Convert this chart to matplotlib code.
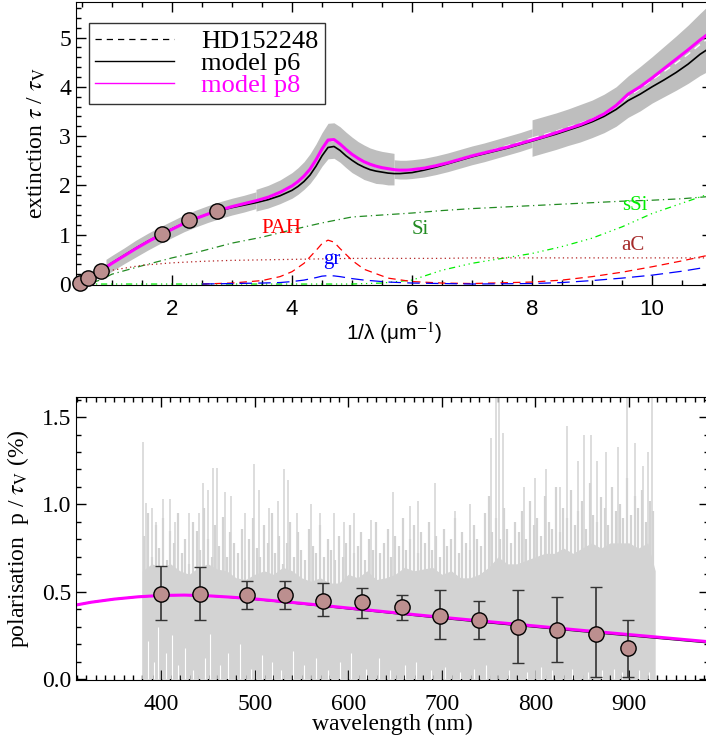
import numpy as np
import matplotlib
matplotlib.use('Agg')
import matplotlib.pyplot as plt
from matplotlib.ticker import MultipleLocator

plt.rcParams['font.family'] = ['Liberation Serif', 'DejaVu Serif']
plt.rcParams['mathtext.fontset'] = 'stix'
plt.rcParams['xtick.direction'] = 'in'
plt.rcParams['ytick.direction'] = 'in'

# ---------------- extinction (top) ----------------
xm = [0.4, 0.5, 0.6, 0.7, 0.8, 0.9, 1.0, 1.2, 1.4, 1.6, 1.8, 2.0, 2.2, 2.4, 2.6, 2.8,
      3.0, 3.2, 3.4, 3.6, 3.8, 4.0, 4.1, 4.2, 4.3, 4.4, 4.5, 4.6, 4.7, 4.8, 4.9,
      5.0, 5.1, 5.2, 5.3, 5.4, 5.5, 5.6, 5.7, 5.8, 5.9, 6.0, 6.2, 6.4, 6.6, 6.8,
      7.0, 7.2, 7.4, 7.6, 7.8, 8.0, 8.2, 8.4, 8.6, 8.8, 9.0, 9.2, 9.4, 9.6, 9.8,
      10.0, 10.2, 10.4, 10.6, 10.8, 11.0]
p8 = [0.0, 0.06, 0.12, 0.19, 0.26, 0.34, 0.42, 0.57, 0.72, 0.86, 0.99, 1.11, 1.23, 1.33, 1.42, 1.50,
      1.57, 1.63, 1.69, 1.76, 1.86, 1.99, 2.08, 2.19, 2.33, 2.52, 2.74, 2.92, 2.93, 2.84, 2.73,
      2.63, 2.55, 2.48, 2.43, 2.39, 2.36, 2.34, 2.32, 2.31, 2.31, 2.32, 2.35, 2.40, 2.46, 2.53,
      2.60, 2.66, 2.72, 2.78, 2.85, 2.92, 2.99, 3.07, 3.15, 3.23, 3.33, 3.45, 3.62, 3.85, 4.00,
      4.18, 4.37, 4.56, 4.75, 4.95, 5.13]
p6 = [0.0, 0.07, 0.13, 0.20, 0.27, 0.35, 0.43, 0.58, 0.73, 0.87, 1.00, 1.12, 1.23, 1.33, 1.42, 1.49,
      1.55, 1.60, 1.65, 1.71, 1.79, 1.90, 1.98, 2.08, 2.21, 2.39, 2.60, 2.77, 2.79, 2.71, 2.60,
      2.51, 2.43, 2.37, 2.32, 2.29, 2.27, 2.25, 2.24, 2.24, 2.25, 2.26, 2.31, 2.37, 2.44, 2.51,
      2.58, 2.64, 2.70, 2.76, 2.83, 2.90, 2.97, 3.04, 3.12, 3.20, 3.29, 3.40, 3.54, 3.72, 3.85,
      4.00, 4.14, 4.29, 4.46, 4.66, 4.82]

# HD152248 observed curve with error band (separate segments)
obs_x = [[0.9, 1.0, 1.2, 1.4, 1.6, 1.8, 2.0, 2.2, 2.4, 2.6, 2.8, 3.0, 3.2, 3.4],
         [3.4, 3.6, 3.8, 4.0, 4.1, 4.2, 4.3, 4.4, 4.5, 4.6, 4.7, 4.8, 4.9, 5.0, 5.1, 5.2,
          5.3, 5.4, 5.5, 5.6, 5.7],
         [5.7, 5.8, 5.9, 6.0, 6.2, 6.4, 6.6, 6.8, 7.0, 7.2, 7.4, 7.6, 7.8, 8.0],
         [8.0, 8.2, 8.4, 8.6, 8.8, 9.0, 9.2, 9.4, 9.6, 9.8, 10.0, 10.2, 10.4, 10.6, 10.8, 11.0]]
obs_y = [[0.34, 0.42, 0.57, 0.72, 0.86, 0.99, 1.11, 1.23, 1.33, 1.42, 1.50, 1.57, 1.63, 1.70],
         [1.70, 1.77, 1.87, 2.00, 2.09, 2.20, 2.34, 2.52, 2.73, 2.90, 2.91, 2.83, 2.72,
          2.62, 2.54, 2.47, 2.42, 2.38, 2.36, 2.34, 2.33],
         [2.33, 2.32, 2.32, 2.33, 2.36, 2.41, 2.47, 2.54, 2.61, 2.67, 2.74, 2.81, 2.88, 2.96],
         [2.96, 3.03, 3.10, 3.18, 3.26, 3.35, 3.46, 3.60, 3.80, 3.96, 4.14, 4.31, 4.48, 4.66,
          4.86, 5.04]]
obs_e = [[0.16, 0.16, 0.16, 0.17, 0.17, 0.17, 0.17, 0.17, 0.17, 0.17, 0.17, 0.17, 0.17, 0.17],
         [0.22, 0.23, 0.24, 0.26, 0.27, 0.28, 0.30, 0.32, 0.34, 0.36, 0.36, 0.36, 0.36, 0.36,
          0.35, 0.35, 0.34, 0.34, 0.33, 0.33, 0.32],
         [0.19, 0.19, 0.19, 0.19, 0.19, 0.19, 0.19, 0.19, 0.19, 0.19, 0.19, 0.19, 0.19, 0.19],
         [0.37, 0.37, 0.37, 0.37, 0.38, 0.38, 0.39, 0.40, 0.42, 0.45, 0.47, 0.51, 0.55, 0.59,
          0.63, 0.68]]

# photometric points
phot_x = [0.47, 0.60, 0.82, 1.83, 2.28, 2.75]
phot_y = [0.02, 0.12, 0.27, 1.01, 1.29, 1.48]

# dust components
xs = [0.4, 0.6, 0.8, 1.0, 1.5, 2.0, 2.5, 3.0, 3.5, 4.0, 4.5, 5.0, 5.5, 6.0, 6.5,
      7.0, 7.5, 8.0, 8.5, 9.0, 9.5, 10.0, 10.5, 11.0]
si = [0.0, 0.0, 0.08, 0.20, 0.37, 0.53, 0.67, 0.83, 0.95, 1.10, 1.24, 1.36, 1.40, 1.44, 1.49,
      1.53, 1.56, 1.59, 1.62, 1.65, 1.68, 1.70, 1.73, 1.78]
ssi = [0.0, 0.0, 0.0, 0.0, 0.0, 0.0, 0.0, 0.0, 0.0, 0.0, 0.0, 0.0, 0.02, 0.08, 0.28,
       0.42, 0.52, 0.62, 0.76, 0.93, 1.16, 1.43, 1.64, 1.85]
ac = [0.0, 0.10, 0.20, 0.28, 0.38, 0.43, 0.46, 0.48, 0.49, 0.50, 0.51, 0.52, 0.52, 0.52, 0.52,
      0.53, 0.53, 0.53, 0.53, 0.53, 0.53, 0.53, 0.53, 0.53]

x_pah = [2.5, 3.0, 3.5, 3.8, 4.0, 4.2, 4.4, 4.5, 4.6, 4.7, 4.8, 5.0, 5.2, 5.6, 6.0, 6.5, 7.0,
         8.0, 8.5, 9.0, 9.5, 10.0, 10.5, 11.0]
pah = [0.0, 0.02, 0.07, 0.15, 0.25, 0.42, 0.68, 0.82, 0.89, 0.85, 0.72, 0.48, 0.30, 0.12,
       0.05, 0.02, 0.01, 0.04, 0.08, 0.15, 0.24, 0.35, 0.47, 0.60]
gr = [0.0, 0.01, 0.02, 0.03, 0.05, 0.08, 0.13, 0.16, 0.17, 0.165, 0.15, 0.11, 0.08, 0.04,
      0.02, 0.01, 0.0, 0.01, 0.03, 0.07, 0.12, 0.18, 0.26, 0.36]

# ---------------- polarisation (bottom) ----------------
pol_wl = [400, 442, 492, 532, 573, 615, 657, 698, 740, 781, 823, 865, 899]
pol_p = [0.49, 0.49, 0.48, 0.48, 0.45, 0.44, 0.41, 0.36, 0.34, 0.30, 0.28, 0.26, 0.18]
pol_lo = [0.34, 0.34, 0.40, 0.40, 0.36, 0.35, 0.34, 0.23, 0.23, 0.09, 0.10, 0.01, 0.01]
pol_hi = [0.65, 0.64, 0.56, 0.56, 0.55, 0.52, 0.48, 0.51, 0.45, 0.51, 0.47, 0.53, 0.34]

mod_wl = [300, 325, 350, 375, 400, 425, 450, 475, 500, 550, 600, 650, 700, 750, 800, 850,
          900, 950, 1000]
mod_p8 = [0.415, 0.44, 0.458, 0.471, 0.479, 0.481, 0.477, 0.469, 0.459, 0.434, 0.407, 0.380,
          0.354, 0.329, 0.304, 0.279, 0.255, 0.231, 0.207]
mod_p6 = [0.415, 0.44, 0.458, 0.471, 0.479, 0.481, 0.477, 0.468, 0.457, 0.431, 0.403, 0.376,
          0.349, 0.323, 0.298, 0.273, 0.249, 0.225, 0.201]

# noisy spectrum: dense core top every 10 nm, comb of samples every 4 nm, tall spikes, gaps
spec_wl = [380, 390, 400, 410, 420, 430, 440, 450, 460, 470, 480, 490, 500, 510, 520, 530,
           540, 550, 560, 570, 580, 590, 600, 610, 620, 630, 640, 650, 660, 670, 680, 690,
           700, 710, 720, 730, 740, 750, 760, 770, 780, 790, 800, 810, 820, 830, 840, 850,
           860, 870, 880, 890, 900, 910, 920, 928]
spec_top = [0.62, 0.66, 0.64, 0.66, 0.62, 0.60, 0.64, 0.66, 0.63, 0.62, 0.58, 0.57, 0.60, 0.62,
            0.60, 0.64, 0.62, 0.58, 0.56, 0.58, 0.55, 0.55, 0.60, 0.58, 0.62, 0.57, 0.58, 0.60,
            0.64, 0.62, 0.63, 0.64, 0.60, 0.62, 0.58, 0.58, 0.60, 0.64, 0.70, 0.66, 0.66, 0.68,
            0.70, 0.72, 0.72, 0.75, 0.72, 0.75, 0.78, 0.75, 0.78, 0.78, 0.78, 0.75, 0.78, 0.62]
comb_wl = list(range(382, 927, 4))
comb_h = [0.82, 0.95, 0.70, 0.88, 0.75, 0.92, 0.68, 0.85, 0.78, 0.95, 0.72, 0.80, 0.66, 0.90,
          0.85, 0.74, 0.98, 0.80, 0.70, 0.88, 0.76, 0.93, 0.70, 0.84, 0.78,
          0.72, 0.86, 0.68, 0.80, 0.92, 0.75, 0.70, 0.88, 0.78, 0.95, 0.72, 0.82, 0.66, 0.78,
          0.90, 0.70, 0.84, 0.74, 0.68, 0.86, 0.76, 0.72, 0.88, 0.70, 0.80,
          0.74, 0.68, 0.82, 0.70, 0.78, 0.88, 0.72, 0.76, 0.84, 0.68, 0.80, 0.74, 0.90, 0.72,
          0.78, 0.86, 0.70, 0.82, 0.76, 0.92, 0.74, 0.80, 0.88, 0.72, 0.84,
          0.78, 0.90, 0.74, 0.82, 0.70, 0.86, 0.76, 0.80, 0.92, 0.72, 0.84, 0.78, 0.74, 0.88,
          0.80, 0.76, 0.95, 1.05, 0.84, 0.92, 0.80, 0.98, 0.86, 0.78, 0.90,
          0.84, 0.96, 0.80, 1.02, 0.88, 0.92, 0.82, 1.05, 0.90, 0.86, 1.10, 0.84, 0.98, 0.92,
          1.08, 0.88, 0.96, 1.02, 0.86, 1.12, 0.94, 0.90, 1.04, 0.98, 0.88, 1.10, 0.96, 1.00,
          0.92, 1.15, 0.94, 1.05, 0.98, 1.08, 0.90, 1.02, 0.96]
spike_wl = [381, 384, 390, 395, 402, 409, 415, 430, 440, 445, 450, 455, 460, 468, 475, 490,
            499, 505, 515, 525, 531, 536, 545, 560, 570, 585, 595, 606, 624, 648, 666, 675,
            693, 714, 730, 752, 758, 761, 765, 788, 800, 811, 826, 834, 845, 852, 859, 866,
            875, 888, 898, 906, 915, 920, 925]
spike_h = [1.36, 1.01, 0.98, 0.90, 1.03, 1.03, 0.90, 0.95, 0.95, 1.12, 1.08, 1.21, 1.21, 1.07,
           1.05, 0.95, 1.23, 1.08, 0.98, 1.02, 1.20, 1.14, 0.95, 1.00, 0.95, 0.95, 0.90, 0.95,
           0.91, 1.07, 0.99, 1.02, 1.12, 0.96, 1.00, 1.38, 1.61, 1.61, 1.41, 1.10, 1.15, 1.20,
           1.10, 1.45, 1.25, 1.40, 1.40, 1.25, 1.30, 1.33, 1.61, 1.35, 1.22, 1.30, 1.61]
gap_wl = [386, 392, 397, 405, 412, 418, 426, 434, 447, 452, 463, 471, 484, 496, 508, 519,
          528, 541, 553, 566, 578, 591, 603, 619, 633, 645, 661, 672, 688, 703, 719, 734,
          747, 772, 791, 806, 818, 839, 856, 871, 884, 893, 911, 921]
gap_h = [0.22, 0.10, 0.30, 0.15, 0.25, 0.08, 0.18, 0.05, 0.12, 0.26, 0.08, 0.15, 0.20, 0.06,
         0.14, 0.10, 0.05, 0.16, 0.08, 0.12, 0.05, 0.10, 0.15, 0.06, 0.12, 0.05, 0.08, 0.10,
         0.05, 0.07, 0.04, 0.06, 0.08, 0.05, 0.04, 0.07, 0.05, 0.06, 0.04, 0.05, 0.06, 0.04,
         0.05, 0.04]

fig = plt.figure(figsize=(7.06, 7.43), dpi=100)

# ---- top panel ----
ax1 = fig.add_axes([0.1076, 0.6164, 0.901, 0.3809])
for sx, sy, se in zip(obs_x, obs_y, obs_e):
    sx, sy, se = np.array(sx), np.array(sy), np.array(se)
    ax1.fill_between(sx, sy - se, sy + se, color='#bebebe', lw=0)
for sx, sy in zip(obs_x, obs_y):
    ax1.plot(sx, sy, color='white', ls=(0, (5, 4)), lw=1)

ax1.plot(xs, si, color='#228b22', ls=(0, (6, 3, 1, 3)), lw=0.9)
ax1.plot(xs, ssi, color='#00ee00', ls=(0, (5, 3, 1, 3, 1, 3, 1, 3)), lw=0.9)
ax1.plot(xs, ac, color='#b22222', ls=(0, (1, 2.5)), lw=0.9)
ax1.plot(x_pah, pah, color='#ff0000', ls=(0, (6, 4)), lw=0.9)
ax1.plot(x_pah, gr, color='#0000ff', ls=(0, (10, 5)), lw=0.9)

ax1.plot(xm, p6, color='black', lw=1.2)
ax1.plot(xm, p8, color='magenta', lw=2.2)
ax1.plot(phot_x, phot_y, 'o', ms=11, mfc='#bc8f8f', mec='black', mew=1, clip_on=False, zorder=5)

ax1.text(3.83, 1.13, 'PAH', color='red', fontsize=15, ha='center', va='center')
ax1.text(6.13, 1.11, 'Si', color='#228b22', fontsize=15, ha='center', va='center')
ax1.text(4.67, 0.49, 'gr', color='blue', fontsize=15, ha='center', va='center')
ax1.text(9.72, 1.60, 'sSi', color='#00ee00', fontsize=15, ha='center', va='center')
ax1.text(9.68, 0.79, 'aC', color='#a52a2a', fontsize=15, ha='center', va='center')

h1, = ax1.plot([], [], color='black', ls=(0, (5, 4)), lw=0.9)
h2, = ax1.plot([], [], color='black', lw=1)
h3, = ax1.plot([], [], color='magenta', lw=1)
leg = ax1.legend([h1, h2, h3], ['HD152248', 'model p6', 'model p8'], loc='upper left',
                 bbox_to_anchor=(0.02, 0.926), borderaxespad=0, fontsize=19, fancybox=False,
                 handlelength=3.0, labelspacing=-0.05, borderpad=0.25, handletextpad=1.0)
leg.get_frame().set_edgecolor('black')
leg.get_frame().set_linewidth(1)
leg.get_texts()[2].set_color('magenta')

ax1.set_xlim(0.4, 11.0)
ax1.set_ylim(-0.02, 5.72)
ax1.xaxis.set_major_locator(MultipleLocator(2))
ax1.xaxis.set_minor_locator(MultipleLocator(0.5))
ax1.yaxis.set_major_locator(MultipleLocator(1))
ax1.yaxis.set_minor_locator(MultipleLocator(0.2))
ax1.tick_params(which='both', top=True, right=True)
ax1.tick_params(which='major', length=7, width=1)
ax1.tick_params(which='minor', length=3.5, width=1)
ax1.tick_params(axis='y', labelsize=17)
ax1.tick_params(axis='x', labelsize=16, pad=10)
for lab in ax1.get_xticklabels():
    lab.set_family('Liberation Sans')
ax1.set_xlabel('1/λ (μm$^{-1}$)', family='Liberation Sans', fontsize=15, labelpad=0)
ax1.set_ylabel('extinction $\\tau$ / $\\tau_\\mathrm{V}$', fontsize=17, labelpad=8)

# ---- bottom panel ----
ax2 = fig.add_axes([0.1076, 0.0848, 0.896, 0.3809])
ax2.fill_between(spec_wl, 0, spec_top, color='#d3d3d3', lw=0)
ax2.vlines(comb_wl, 0, comb_h, color='#d3d3d3', lw=1.6)
ax2.vlines(spike_wl, 0, spike_h, color='#d3d3d3', lw=1.1)
ax2.vlines(gap_wl, 0, gap_h, color='white', lw=0.8)
ax2.plot(mod_wl, mod_p6, color='black', lw=1.2)
ax2.plot(mod_wl, mod_p8, color='magenta', lw=2.2)
ax2.errorbar(pol_wl, pol_p, yerr=[np.subtract(pol_p, pol_lo), np.subtract(pol_hi, pol_p)],
             fmt='o', ms=11, mfc='#bc8f8f', mec='black', mew=1, ecolor='#333333',
             elinewidth=1.2, capsize=4, capthick=1.2, zorder=5)

ax2.set_xlim(309, 985)
ax2.set_ylim(-0.005, 1.615)
ax2.xaxis.set_major_locator(MultipleLocator(100))
ax2.xaxis.set_minor_locator(MultipleLocator(10))
ax2.yaxis.set_major_locator(MultipleLocator(0.5))
ax2.yaxis.set_minor_locator(MultipleLocator(0.1))
ax2.yaxis.set_major_formatter(plt.FormatStrFormatter('%.1f'))
ax2.tick_params(which='both', top=True, right=True)
ax2.tick_params(which='major', length=7, width=1)
ax2.tick_params(which='minor', length=3.5, width=1)
ax2.tick_params(axis='both', labelsize=17)
ax2.tick_params(axis='x', pad=10)
ax2.set_xlabel('wavelength (nm)', fontsize=17, labelpad=-1)
ax2.set_ylabel('polarisation  p / $\\tau_\\mathrm{V}$ (%)', fontsize=17, labelpad=8)

fig.savefig('out.png', dpi=100)
